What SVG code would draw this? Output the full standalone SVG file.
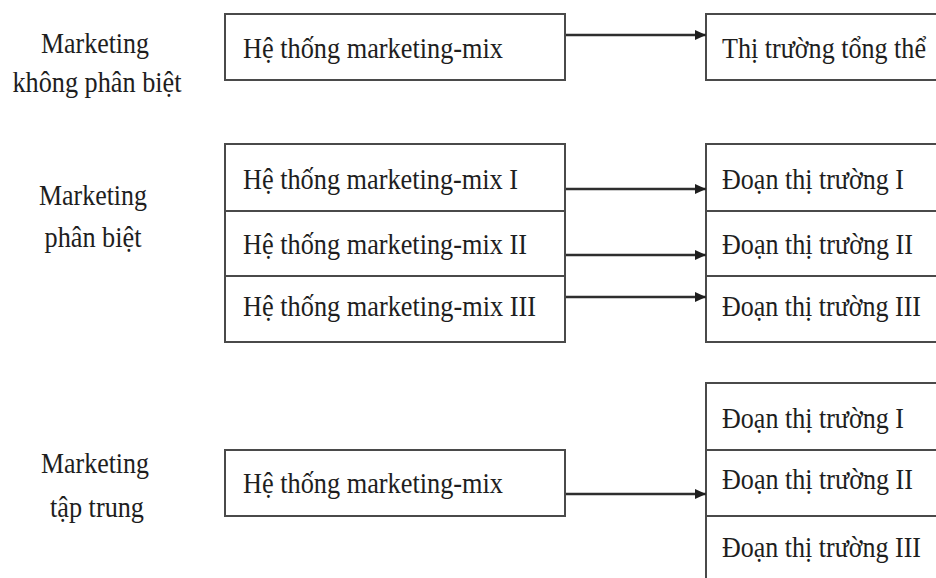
<svg xmlns="http://www.w3.org/2000/svg" width="936" height="578" viewBox="0 0 936 578">
  <style>
    .box { fill: #ffffff; stroke: #4a4a4a; stroke-width: 2; }
    .div { stroke: #4a4a4a; stroke-width: 2; fill: none; }
    .t { font-family: "Liberation Serif", "Times New Roman", serif; font-size: 30px; fill: #1e1e1e; }
    .lbl { text-anchor: middle; }
    .conn { stroke: #2e2e2e; stroke-width: 2.6; fill: none; marker-end: url(#arrow); }
  </style>
  <defs>
    <marker id="arrow" markerUnits="userSpaceOnUse" markerWidth="12" markerHeight="12" refX="11" refY="6" orient="auto">
      <path d="M0,1 L11,6 L0,11 Z" fill="#1e1e1e"/>
    </marker>
  </defs>
  <rect width="936" height="578" fill="#ffffff"/>

  <!-- Row 1: undifferentiated marketing -->
  <g id="label-khong-phan-biet">
    <text class="t lbl" x="95" y="53" textLength="108" lengthAdjust="spacingAndGlyphs">Marketing</text>
    <text class="t lbl" x="97" y="92" textLength="169" lengthAdjust="spacingAndGlyphs">không phân biệt</text>
  </g>
  <g id="mix-1">
    <rect class="box" x="225" y="14" width="340" height="66"/>
    <text class="t" x="243" y="58" textLength="260" lengthAdjust="spacingAndGlyphs">Hệ thống marketing-mix</text>
  </g>
  <g id="market-total">
    <rect class="box" x="706" y="14" width="250" height="66"/>
    <text class="t" x="722" y="58" textLength="204" lengthAdjust="spacingAndGlyphs">Thị trường tổng thể</text>
  </g>

  <!-- Row 2: differentiated marketing -->
  <g id="label-phan-biet">
    <text class="t lbl" x="93" y="205" textLength="108" lengthAdjust="spacingAndGlyphs">Marketing</text>
    <text class="t lbl" x="93" y="247" textLength="97" lengthAdjust="spacingAndGlyphs">phân biệt</text>
  </g>
  <g id="mix-2">
    <rect class="box" x="225" y="144" width="340" height="198"/>
    <line class="div" x1="225" y1="211" x2="565" y2="211"/>
    <line class="div" x1="225" y1="276" x2="565" y2="276"/>
    <text class="t" x="243" y="189" textLength="275" lengthAdjust="spacingAndGlyphs">Hệ thống marketing-mix I</text>
    <text class="t" x="243" y="254" textLength="284" lengthAdjust="spacingAndGlyphs">Hệ thống marketing-mix II</text>
    <text class="t" x="243" y="316" textLength="293" lengthAdjust="spacingAndGlyphs">Hệ thống marketing-mix III</text>
  </g>
  <g id="segments-2">
    <rect class="box" x="706" y="144" width="250" height="198"/>
    <line class="div" x1="706" y1="211" x2="936" y2="211"/>
    <line class="div" x1="706" y1="276" x2="936" y2="276"/>
    <text class="t" x="722" y="189" textLength="182" lengthAdjust="spacingAndGlyphs">Đoạn thị trường I</text>
    <text class="t" x="722" y="254" textLength="191" lengthAdjust="spacingAndGlyphs">Đoạn thị trường II</text>
    <text class="t" x="722" y="316" textLength="199" lengthAdjust="spacingAndGlyphs">Đoạn thị trường III</text>
  </g>

  <!-- Row 3: concentrated marketing -->
  <g id="label-tap-trung">
    <text class="t lbl" x="95" y="473" textLength="108" lengthAdjust="spacingAndGlyphs">Marketing</text>
    <text class="t lbl" x="97" y="517" textLength="94" lengthAdjust="spacingAndGlyphs">tập trung</text>
  </g>
  <g id="mix-3">
    <rect class="box" x="225" y="450" width="340" height="66"/>
    <text class="t" x="243" y="493" textLength="260" lengthAdjust="spacingAndGlyphs">Hệ thống marketing-mix</text>
  </g>
  <g id="segments-3">
    <rect class="box" x="706" y="383" width="250" height="230"/>
    <line class="div" x1="706" y1="450" x2="936" y2="450"/>
    <line class="div" x1="706" y1="516" x2="936" y2="516"/>
    <text class="t" x="722" y="428" textLength="182" lengthAdjust="spacingAndGlyphs">Đoạn thị trường I</text>
    <text class="t" x="722" y="489" textLength="191" lengthAdjust="spacingAndGlyphs">Đoạn thị trường II</text>
    <text class="t" x="722" y="557" textLength="199" lengthAdjust="spacingAndGlyphs">Đoạn thị trường III</text>
  </g>

  <!-- Connectors -->
  <g id="connectors">
    <line class="conn" x1="566" y1="35" x2="706" y2="35"/>
    <line class="conn" x1="566" y1="189" x2="706" y2="189"/>
    <line class="conn" x1="566" y1="255" x2="706" y2="255"/>
    <line class="conn" x1="566" y1="297" x2="706" y2="297"/>
    <line class="conn" x1="566" y1="494" x2="706" y2="494"/>
  </g>
</svg>
